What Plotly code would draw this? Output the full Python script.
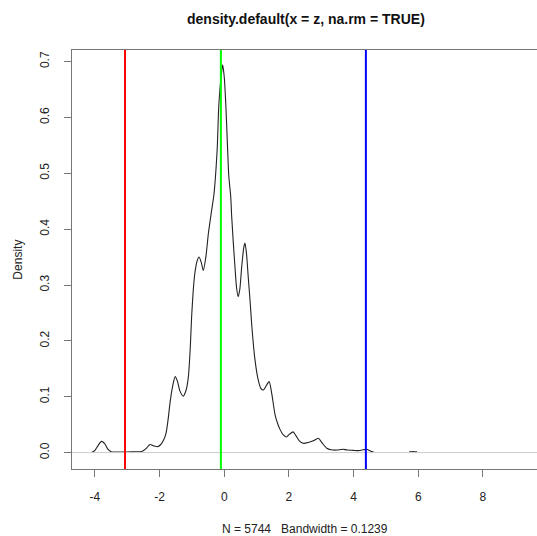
import plotly.graph_objects as go

# density curve; None marks stretches hidden under the zero line
dens_x = [-4.10, -4.00, -3.90, -3.80, -3.70, -3.60, -3.50, -3.30, -3.00, -2.80, -2.55, -2.42,
          -2.30, -2.18, -2.07, -1.97, -1.88, -1.80, -1.74, -1.68, -1.60, -1.52, -1.45, -1.37,
          -1.27, -1.18, -1.11, -1.05, -1.01, -0.96, -0.91, -0.84, -0.78, -0.71, -0.65, -0.57,
          -0.49, -0.40, -0.32, -0.22, -0.17, -0.10, -0.05, 0.00, 0.05, 0.10, 0.14, 0.20,
          0.23, 0.28, 0.33, 0.38, 0.43, 0.48, 0.54, 0.60, 0.64, 0.69, 0.74, 0.80,
          0.85, 0.95, 1.05, 1.13, 1.21, 1.30, 1.39, 1.47, 1.57, 1.65, 1.72, 1.82,
          1.92, 2.02, 2.13, 2.22, 2.32, 2.44, 2.60, 2.75, 2.91, 3.03, 3.17, 3.30,
          3.48, 3.60, 3.68, 3.80, 3.99, 4.15, 4.30, 4.40, 4.52, 4.62, None,
          5.72, 5.80, 5.88, 5.96]
dens_y = [0.000, 0.004, 0.013, 0.020, 0.016, 0.006, 0.0015, 0.001, 0.001, 0.0015, 0.002, 0.007,
          0.0145, 0.012, 0.0105, 0.014, 0.022, 0.035, 0.058, 0.088, 0.118, 0.136, 0.128, 0.110,
          0.101, 0.112, 0.136, 0.190, 0.243, 0.290, 0.321, 0.343, 0.350, 0.340, 0.326, 0.350,
          0.393, 0.430, 0.462, 0.542, 0.620, 0.672, 0.694, 0.672, 0.620, 0.548, 0.495, 0.458,
          0.422, 0.375, 0.333, 0.295, 0.279, 0.292, 0.333, 0.366, 0.375, 0.355, 0.315, 0.270,
          0.228, 0.166, 0.130, 0.115, 0.112, 0.120, 0.127, 0.105, 0.068, 0.052, 0.042, 0.032,
          0.028, 0.033, 0.037, 0.030, 0.021, 0.0166, 0.018, 0.021, 0.0256, 0.017, 0.0077, 0.005,
          0.0045, 0.0055, 0.006, 0.0045, 0.004, 0.0035, 0.005, 0.006, 0.003, 0.0008, None,
          0.0012, 0.0016, 0.0016, 0.0012]

# reference lines
vlines_x = [-3.07, -0.105, 4.38]
vlines_col = ["#FF0000", "#00FF00", "#0000FF"]

x_ticks = [-4, -2, 0, 2, 4, 6, 8]
x_tick_text = ["-4", "-2", "0", "2", "4", "6", "8"]
y_ticks = [0.0, 0.1, 0.2, 0.3, 0.4, 0.5, 0.6, 0.7]
y_tick_text = ["0.0", "0.1", "0.2", "0.3", "0.4", "0.5", "0.6", "0.7"]

title_text = "density.default(x = z, na.rm = TRUE)"
xlab_text = "N = 5744   Bandwidth = 0.1239"
ylab_text = "Density"

FONT = "Liberation Sans, Arial, sans-serif"
AX = "#777777"

fig = go.Figure()
fig.add_trace(go.Scatter(x=dens_x, y=dens_y, mode="lines", connectgaps=False,
                         line=dict(color="#222222", width=1.1, shape="spline", smoothing=0.6),
                         hoverinfo="skip", showlegend=False))

shapes = [dict(type="line", xref="paper", yref="y", x0=0, x1=1, y0=0, y1=0,
               line=dict(color="#cccccc", width=1), layer="above")]
for xv, c in zip(vlines_x, vlines_col):
    shapes.append(dict(type="line", xref="x", yref="paper", x0=xv, x1=xv, y0=0, y1=1,
                       line=dict(color=c, width=2), layer="above"))

fig.update_layout(
    width=537, height=536,
    margin=dict(l=72, r=0, t=50, b=67, pad=0),
    paper_bgcolor="white", plot_bgcolor="white",
    font=dict(family=FONT, size=12, color="#222222"),
    shapes=shapes,
    annotations=[
        dict(text="<b>" + title_text + "</b>", xref="paper", yref="paper",
             x=0.504, y=1.0745, xanchor="center", yanchor="middle", showarrow=False,
             font=dict(family=FONT, size=14, color="#111111")),
        dict(text=xlab_text, xref="paper", yref="paper",
             x=0.502, y=-0.143, xanchor="center", yanchor="middle", showarrow=False,
             font=dict(family=FONT, size=12, color="#222222")),
        dict(text=ylab_text, xref="paper", yref="paper", textangle=-90,
             x=-0.118, y=0.5, xanchor="center", yanchor="middle", showarrow=False,
             font=dict(family=FONT, size=12, color="#222222")),
    ],
    xaxis=dict(range=[-4.71, 9.673], tickvals=x_ticks, ticktext=x_tick_text,
               ticks="outside", ticklen=7,
               tickcolor=AX, showline=True, linecolor=AX, linewidth=1, mirror=True,
               showgrid=False, zeroline=False, ticklabelstandoff=10,
               tickfont=dict(family=FONT, size=12, color="#222222")),
    yaxis=dict(range=[-0.0294, 0.7207], tickvals=y_ticks, ticktext=y_tick_text,
               ticks="outside", ticklen=7, tickcolor=AX, showline=True, linecolor=AX,
               linewidth=1, mirror=False, showgrid=False, zeroline=False, tickangle=-90,
               ticklabelstandoff=10,
               tickfont=dict(family=FONT, size=12, color="#222222")),
)

fig.write_html("out.html")
